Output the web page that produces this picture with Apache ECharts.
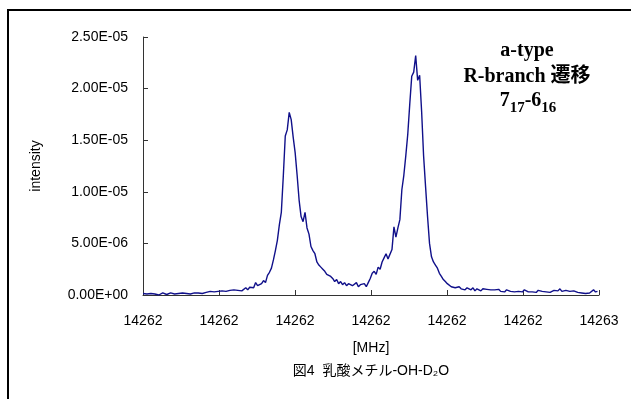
<!DOCTYPE html>
<html>
<head>
<meta charset="utf-8">
<script src="https://cdn.jsdelivr.net/npm/echarts@6/dist/echarts.min.js"></script>
<style>
html,body{margin:0;padding:0;background:#fff;}
#chart{width:631px;height:399px;}
</style>
</head>
<body>
<div id="chart"></div>
<script>
// Sampling grid of the spectrum (MHz)
const freqStart = 14262.2000;
const freqStep = 0.0013;
// Intensity values in units of 1e-6, one per sample
const intensityE6 = [
0.15,0.2,0.1,0.05,0.15,0.2,0.1,0.15,0.0,0.1,
0.2,0.15,0.05,0.1,0.2,0.15,0.1,0.25,0.15,0.1,
0.2,0.25,0.15,0.2,0.1,0.25,0.2,0.3,0.2,0.25,
0.15,0.3,0.25,0.2,0.35,0.25,0.3,0.2,0.35,0.3,
0.4,0.25,0.35,0.3,0.45,0.3,0.5,0.35,0.45,0.6,
0.4,0.55,0.7,0.5,0.75,0.9,0.7,1.2,0.9,1.0,
1.1,1.4,1.2,1.9,2.2,2.6,3.4,4.3,5.3,6.8,
8.0,11.5,15.4,16.0,17.7,17.0,15.3,13.8,11.6,9.2,
7.6,7.1,8.0,6.5,5.9,4.7,4.3,4.0,3.2,2.9,
2.7,2.5,2.3,2.0,2.1,1.8,1.6,1.3,1.5,1.1,
1.3,1.0,1.2,0.9,1.1,1.2,0.9,1.0,1.2,0.8,
1.0,0.9,1.1,0.8,1.2,1.6,2.1,2.3,2.0,2.7,
2.5,3.2,3.6,4.0,3.5,3.4,4.4,6.6,5.6,6.5,
7.3,10.2,11.6,13.5,15.6,18.5,21.2,21.6,23.2,20.8,
21.3,17.8,13.5,10.5,7.6,5.0,3.7,3.2,2.9,2.6,
2.1,1.8,1.5,1.3,1.1,1.0,0.8,0.9,0.7,0.8,
0.8,0.6,0.7,0.5,0.7,0.6,0.5,0.7,0.4,0.6,
0.5,0.4,0.6,0.45,0.55,0.4,0.5,0.35,0.5,0.4,
0.55,0.35,0.45,0.3,0.5,0.4,0.35,0.5,0.3,0.45,
0.35,0.4,0.3,0.5,0.35,0.3,0.45,0.3,0.4,0.25,
0.45,0.3,0.35,0.5,0.3,0.4,0.25,0.35,0.45,0.3,
0.4,0.6,0.35,0.3,0.45,0.3,0.35,0.2,0.4,0.3,
0.25,0.35,0.2,0.3,0.15,0.25,0.2,0.35,0.5,0.3,
0.35
];
const xTickLabels = ['14262','14262','14262','14262','14262','14262','14263'];
const yTickLabels = ['0.00E+00','5.00E-06','1.00E-05','1.50E-05','2.00E-05','2.50E-05'];
const xAxisName = '[MHz]';
const yAxisName = 'intensity';
const captionText = '図4  乳酸メチル-OH-D₂O';
const noteLine1 = 'a-type';
const noteLine2 = 'R-branch 遷移';

const seriesData = intensityE6.map((v, i) => [freqStart + i * freqStep, v * 1e-6]);

const chart = echarts.init(document.getElementById('chart'), null, {renderer: 'canvas'});
const latin = '"Liberation Sans", Arial, "Noto Sans CJK JP", sans-serif';
const serif = '"Liberation Serif", "Times New Roman", "Noto Sans CJK JP", serif';

chart.setOption({
  animation: false,
  backgroundColor: '#ffffff',
  grid: {left: 143, right: 32, top: 37, bottom: 104, containLabel: false},
  xAxis: {
    type: 'value',
    min: 14262.20, max: 14262.50, interval: 0.05,
    name: xAxisName, nameLocation: 'middle', nameGap: 46,
    nameTextStyle: {fontFamily: latin, fontSize: 14, color: '#000'},
    axisLine: {lineStyle: {color: '#333', width: 1}},
    axisTick: {show: true, inside: true, length: 5, lineStyle: {color: '#333'}},
    axisLabel: {fontFamily: latin, fontSize: 14, color: '#000', margin: 19,
      formatter: (v, idx) => xTickLabels[idx] !== undefined ? xTickLabels[idx] : ''},
    splitLine: {show: false}
  },
  yAxis: {
    type: 'value',
    min: 0, max: 2.5e-5, interval: 5e-6,
    name: yAxisName, nameLocation: 'middle', nameGap: 100, nameRotate: 90,
    nameTextStyle: {fontFamily: latin, fontSize: 14, color: '#000'},
    axisLine: {show: true, lineStyle: {color: '#333', width: 1}},
    axisTick: {show: true, inside: true, length: 5, lineStyle: {color: '#333'}},
    axisLabel: {fontFamily: latin, fontSize: 14, color: '#000', margin: 15,
      formatter: (v, idx) => yTickLabels[idx] !== undefined ? yTickLabels[idx] : ''},
    splitLine: {show: false}
  },
  series: [{
    type: 'line',
    data: seriesData,
    showSymbol: false,
    lineStyle: {color: '#10108a', width: 1.4},
    z: 3
  }],
  graphic: [
    {type: 'rect', shape: {x: 8, y: 10, width: 800, height: 600},
     style: {fill: 'none', stroke: '#000', lineWidth: 2}, silent: true},
    {type: 'text', x: 371, y: 371,
     style: {text: captionText, font: '14px ' + latin, fill: '#000', textAlign: 'center', textVerticalAlign: 'middle'}},
    {type: 'text', x: 527, y: 51,
     style: {text: noteLine1, font: 'bold 20px ' + serif, fill: '#000', textAlign: 'center', textVerticalAlign: 'middle'}},
    {type: 'text', x: 527, y: 77,
     style: {text: noteLine2, font: 'bold 20px ' + serif, fill: '#000', textAlign: 'center', textVerticalAlign: 'middle'}},
    {type: 'text', x: 528, y: 91,
     style: {
       text: '{b|7}{s|17}{b|-6}{s|16}',
       textAlign: 'center', textVerticalAlign: 'top',
       rich: {
         b: {fontFamily: serif, fontSize: 20, fontWeight: 'bold', lineHeight: 22, verticalAlign: 'top', fill: '#000', color: '#000'},
         s: {fontFamily: serif, fontSize: 15, fontWeight: 'bold', lineHeight: 15, padding: [10, 0, 0, 0], verticalAlign: 'top', fill: '#000', color: '#000'}
       }
     }}
  ]
});
</script>
</body>
</html>
